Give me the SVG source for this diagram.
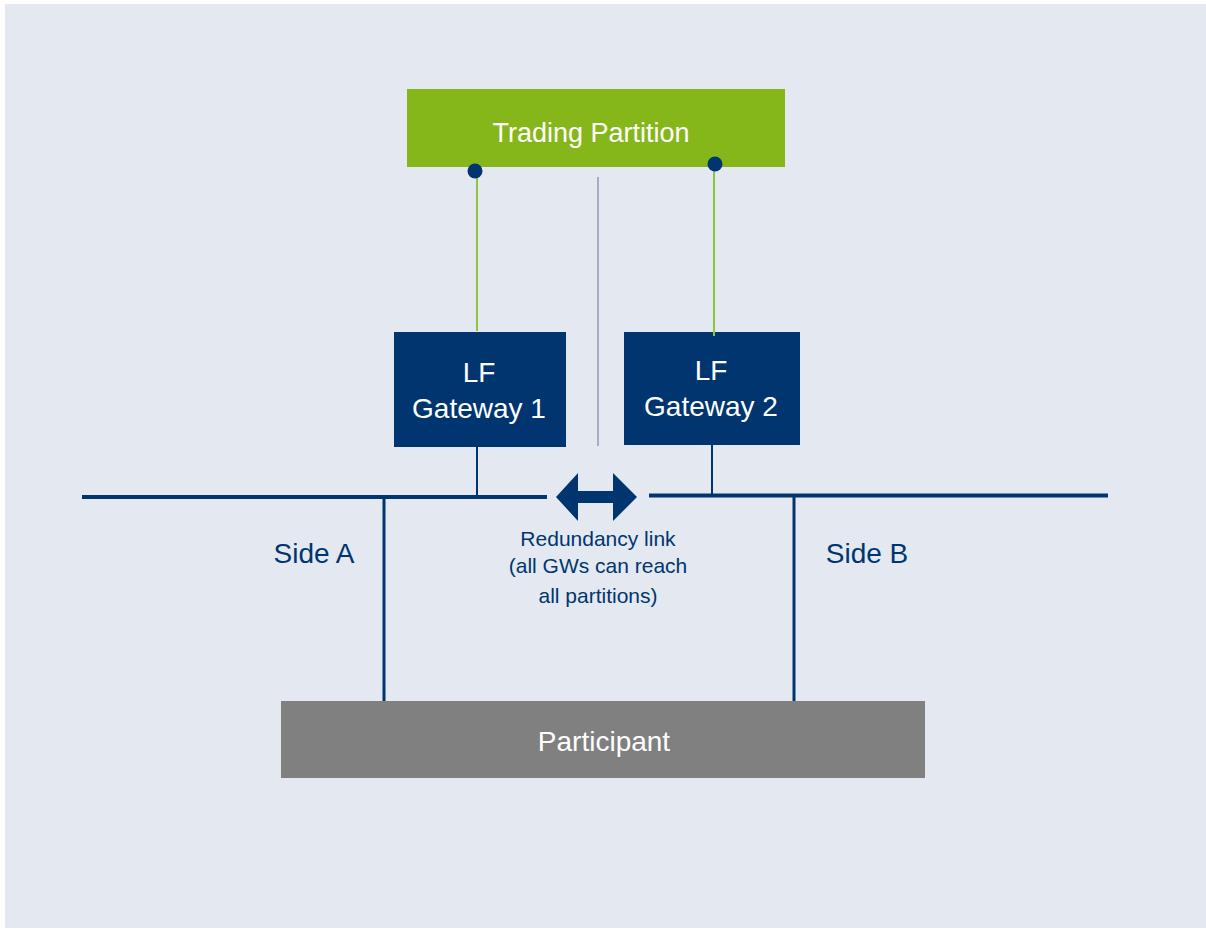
<svg xmlns="http://www.w3.org/2000/svg" width="1206" height="929" viewBox="0 0 1206 929">
<style>
.lbl{font-family:"Liberation Sans",Arial,sans-serif;text-anchor:middle}
.w{fill:#ffffff}
.b{fill:#003570}
.navy{stroke:#003570;fill:none}
.green{stroke:#8CC63F;stroke-width:2;fill:none}
</style>
<rect x="0" y="0" width="1206" height="929" fill="#ffffff"/>
<rect x="5" y="4" width="1201" height="924" fill="#E4E9F1"/>
<g id="trading-partition">
<rect x="407" y="89" width="378" height="78" fill="#86B71A"/>
<text class="lbl w" x="591" y="142" font-size="27">Trading Partition</text>
</g>
<g id="gateway1">
<rect x="394" y="332" width="172" height="115" fill="#003570"/>
<text class="lbl w" x="479" y="382" font-size="28">LF</text>
<text class="lbl w" x="479" y="418" font-size="28">Gateway 1</text>
</g>
<g id="gateway2">
<rect x="624" y="332" width="176" height="113" fill="#003570"/>
<text class="lbl w" x="711" y="380" font-size="28">LF</text>
<text class="lbl w" x="711" y="416" font-size="28">Gateway 2</text>
</g>
<g id="redundancy-label">
<text class="lbl b" x="598" y="546" font-size="21">Redundancy link</text>
<text class="lbl b" x="598" y="573" font-size="21">(all GWs can reach</text>
<text class="lbl b" x="598" y="603" font-size="21">all partitions)</text>
</g>
<g id="side-a">
<text class="lbl b" x="314" y="563" font-size="28">Side A</text>
</g>
<g id="side-b">
<text class="lbl b" x="867" y="563" font-size="28">Side B</text>
</g>
<g id="participant">
<rect x="281" y="701" width="644" height="77" fill="#808080"/>
<text class="lbl w" x="604" y="751" font-size="28">Participant</text>
</g>
<g id="connectors">
<line class="green" x1="477" y1="171" x2="477" y2="331"/>
<line class="green" x1="714" y1="164" x2="714" y2="336"/>
<line x1="598" y1="177" x2="598" y2="446" stroke="#8A9BB5" stroke-width="1.5"/>
<line class="navy" stroke-width="2" x1="477" y1="447" x2="477" y2="497"/>
<line class="navy" stroke-width="2" x1="712" y1="445" x2="712" y2="495"/>
<line class="navy" stroke-width="4" x1="82" y1="497" x2="547" y2="497"/>
<line class="navy" stroke-width="4" x1="649" y1="495.5" x2="1108" y2="495.5"/>
<line class="navy" stroke-width="3" x1="384" y1="497" x2="384" y2="701"/>
<line class="navy" stroke-width="3" x1="794" y1="495" x2="794" y2="701"/>
<circle cx="475" cy="171" r="7.5" fill="#003570"/>
<circle cx="715" cy="164" r="7.5" fill="#003570"/>
<polygon fill="#003570" points="556,497 578,473 578,491 613,491 613,473 637,497 613,521 613,503 578,503 578,521"/>
</g>
</svg>
